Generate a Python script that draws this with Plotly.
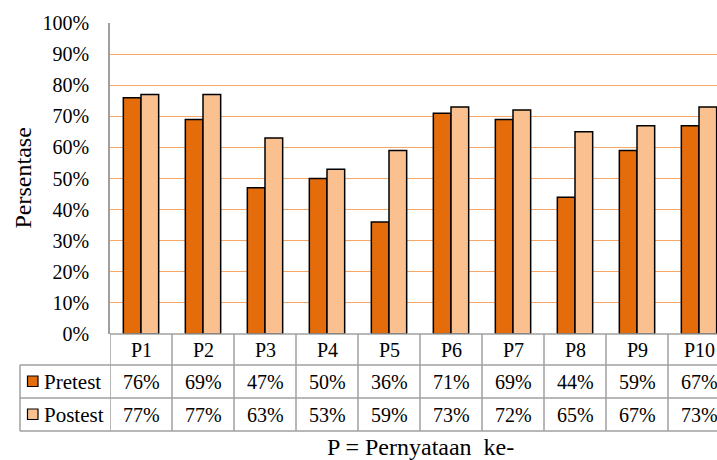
import plotly.graph_objects as go

# Pernyataan (statements) P1..P10 and the share of agreeing answers
categories = ["P1", "P2", "P3", "P4", "P5", "P6", "P7", "P8", "P9", "P10"]
pretest = [0.76, 0.69, 0.47, 0.50, 0.36, 0.71, 0.69, 0.44, 0.59, 0.67]
postest = [0.77, 0.77, 0.63, 0.53, 0.59, 0.73, 0.72, 0.65, 0.67, 0.73]
series_names = ["Pretest", "Postest"]
y_ticks = [i / 10 for i in range(11)]

PRE_COLOR = "#E46C0A"
POST_COLOR = "#FAC090"
GRID_COLOR = "#F7A868"
TABLE_LINE = "#A0A0A0"
FONT = "Liberation Serif"

W, H = 717, 460
M_L, M_R, M_T, M_B = 110, 0, 23, 126
plot_w = W - M_L - M_R
plot_h = H - M_T - M_B
col_px = 62.0  # width of one category column


def py(pix):
    """Pixel row -> paper y."""
    return (H - M_B - pix) / plot_h


def px(pix):
    """Pixel column -> paper x."""
    return (pix - M_L) / plot_w


fig = go.Figure()
for name, vals, color in [(series_names[0], pretest, PRE_COLOR),
                          (series_names[1], postest, POST_COLOR)]:
    fig.add_trace(go.Bar(
        x=categories, y=vals, name=name,
        marker=dict(color=color, line=dict(color="#000000", width=1.5)),
        showlegend=False,
    ))

x_max = -0.5 + plot_w / col_px

# data table rows (pixel rows of the borders)
row_lines = [H - M_B, 365, 398, 431]
row_y = [py(r) for r in row_lines]
left_edge = px(20)

line_style = dict(color=TABLE_LINE, width=1.5)
# horizontal table borders
fig.add_shape(type="line", xref="paper", yref="paper", x0=0, x1=1, y0=0, y1=0,
              line=line_style)
for yv in row_y[1:]:
    fig.add_shape(type="line", xref="paper", yref="paper", x0=left_edge, x1=1,
                  y0=yv, y1=yv, line=line_style)
# vertical table borders between categories
for i in range(len(categories) + 1):
    fig.add_shape(type="line", xref="x", yref="paper", x0=i - 0.5, x1=i - 0.5,
                  y0=0, y1=row_y[-1], line=line_style)
fig.add_shape(type="line", xref="paper", yref="paper", x0=left_edge, x1=left_edge,
              y0=row_y[1], y1=row_y[-1], line=line_style)

# legend keys inside the table
for k, color in enumerate([PRE_COLOR, POST_COLOR]):
    top = row_lines[k + 1] + 11
    fig.add_shape(type="rect", xref="paper", yref="paper",
                  x0=px(27.5), x1=px(38), y0=py(top), y1=py(top + 10.5),
                  fillcolor=color, line=dict(color="#000000", width=1.2))

cell_font = dict(family=FONT, size=20, color="black")
name_font = dict(family=FONT, size=21, color="black")
row_centers = [(row_y[j] + row_y[j + 1]) / 2 for j in range(3)]
for i, cat in enumerate(categories):
    for j, txt in enumerate([cat, f"{round(pretest[i] * 100)}%",
                             f"{round(postest[i] * 100)}%"]):
        fig.add_annotation(x=cat, y=row_centers[j], xref="x", yref="paper",
                           text=txt, showarrow=False, font=cell_font,
                           xanchor="center", yanchor="middle")
for k, name in enumerate(series_names):
    fig.add_annotation(x=px(41.5), y=row_centers[k + 1], xref="paper", yref="paper",
                       text=name, showarrow=False, font=name_font,
                       xanchor="left", yanchor="middle")

# axis titles
fig.add_annotation(x=0.5 * col_px * 10 / plot_w, y=py(447), xref="paper", yref="paper",
                   text="P = Pernyataan&nbsp; ke-", showarrow=False,
                   font=dict(family=FONT, size=24, color="black"),
                   xanchor="center", yanchor="middle")
fig.add_annotation(x=px(22), y=0.5, xref="paper", yref="paper",
                   text="Persentase", textangle=-90, showarrow=False,
                   font=dict(family=FONT, size=24, color="black"),
                   xanchor="center", yanchor="middle")

fig.update_layout(
    width=W, height=H,
    margin=dict(l=M_L, r=M_R, t=M_T, b=M_B, pad=0),
    paper_bgcolor="white", plot_bgcolor="white",
    barmode="group", bargap=0.43, bargroupgap=0,
    xaxis=dict(range=[-0.5, x_max], showticklabels=False, showgrid=False,
               zeroline=False, showline=False, ticks="", fixedrange=True),
    yaxis=dict(range=[0, 1], tickvals=y_ticks, tickformat=".0%",
               showgrid=True, gridcolor=GRID_COLOR, gridwidth=1.3,
               zeroline=False, showline=True, linecolor=TABLE_LINE, linewidth=1.5,
               ticks="", ticklabelstandoff=15,
               tickfont=dict(family=FONT, size=20, color="black")),
)

fig.write_html("out.html")
